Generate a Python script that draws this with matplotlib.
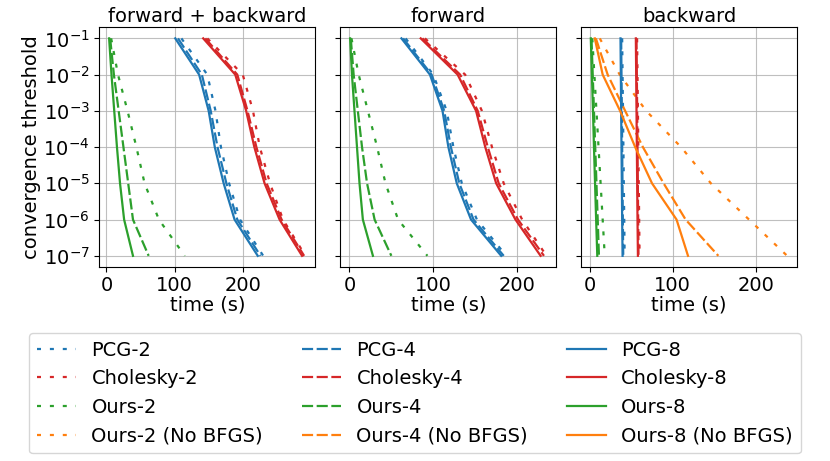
import matplotlib
matplotlib.use("Agg")
import matplotlib.pyplot as plt

thresholds = [1e-1, 1e-2, 1e-3, 1e-4, 1e-5, 1e-6, 1e-7]

# forward + backward
fb_pcg2 = [110, 148, 160, 168, 180, 196, 230]
fb_pcg4 = [105, 140, 153, 163, 176, 192, 226]
fb_pcg8 = [101, 136, 150, 159, 172, 188, 222]
fb_chol2 = [148, 200, 215, 225, 240, 259, 292]
fb_chol4 = [145, 192, 207, 220, 235, 257, 290]
fb_chol8 = [142, 189, 205, 217, 232, 254, 287]
fb_ours2 = [7, 17, 31, 44, 56, 77, 115]
fb_ours4 = [5.5, 11, 18, 25, 32, 39, 62]
fb_ours8 = [4, 7.5, 11.5, 15.5, 20, 26, 39]

# forward
fw_pcg2 = [67, 100, 116, 124, 134, 152, 187]
fw_pcg4 = [64, 98, 113, 121, 131, 148, 184]
fw_pcg8 = [62, 96, 111, 118, 128, 145, 181]
fw_chol2 = [90, 138, 158, 170, 184, 206, 235]
fw_chol4 = [87, 132, 153, 165, 178, 201, 232]
fw_chol8 = [85, 129, 151, 162, 175, 198, 228]
fw_ours2 = [2.4, 11, 22, 33, 43, 58, 93]
fw_ours4 = [1.6, 5, 10, 15, 21, 30, 50]
fw_ours8 = [0.8, 3, 6, 9, 12, 16, 28]

# backward
bw_pcg2 = [39, 39.5, 40, 40.5, 41, 41.5, 42]
bw_pcg4 = [37.8, 38.2, 38.6, 39, 39.4, 39.8, 40.3]
bw_pcg8 = [37, 37.4, 37.8, 38.2, 38.6, 39, 39.5]
bw_chol2 = [57, 57.5, 58, 58.5, 59, 59.5, 60]
bw_chol4 = [56.3, 56.7, 57.1, 57.5, 57.9, 58.3, 58.7]
bw_chol8 = [55.5, 55.9, 56.3, 56.7, 57.1, 57.5, 58]
bw_ours2 = [3, 5.5, 8, 10.5, 13, 15.5, 18]
bw_ours4 = [2, 3.5, 5, 6.5, 8, 9.5, 11]
bw_ours8 = [1.2, 2.5, 3.8, 5, 6.3, 7.6, 9]
bw_nob2 = [12, 36, 68, 110, 146, 192, 238]
bw_nob4 = [7.3, 21.5, 42.6, 64, 89, 115.5, 155]
bw_nob8 = [6, 15.5, 36.5, 54.7, 75, 104.6, 118.4]

titles = ["forward + backward", "forward", "backward"]
sizes = ["2", "4", "8"]

C_PCG, C_CHOL, C_OURS, C_NOB = "#1f77b4", "#d62728", "#2ca02c", "#ff7f0e"
styles = {"2": (0, (1.8, 4.0)), "4": (0, (5.0, 1.6)), "8": "-"}
LW = 1.6

panels = [
    {"PCG": [fb_pcg2, fb_pcg4, fb_pcg8], "Cholesky": [fb_chol2, fb_chol4, fb_chol8],
     "Ours": [fb_ours2, fb_ours4, fb_ours8], "NoB": None},
    {"PCG": [fw_pcg2, fw_pcg4, fw_pcg8], "Cholesky": [fw_chol2, fw_chol4, fw_chol8],
     "Ours": [fw_ours2, fw_ours4, fw_ours8], "NoB": None},
    {"PCG": [bw_pcg2, bw_pcg4, bw_pcg8], "Cholesky": [bw_chol2, bw_chol4, bw_chol8],
     "Ours": [bw_ours2, bw_ours4, bw_ours8], "NoB": [bw_nob2, bw_nob4, bw_nob8]},
]

FS = 14
plt.rcParams["font.size"] = FS
fig = plt.figure(figsize=(8.3, 4.61), dpi=100)
lefts = [99.3 / 830, 340.3 / 830, 581 / 830]
w = 216 / 830
bottom = 1 - 266.7 / 461
h = (266.7 - 27.5) / 461
axes = []
for i in range(3):
    ax = fig.add_axes([lefts[i], bottom, w, h], sharey=axes[0] if axes else None)
    axes.append(ax)

for i, (ax, p) in enumerate(zip(axes, panels)):
    for k, s in enumerate(sizes):
        ls = styles[s]
        ax.plot(p["PCG"][k], thresholds, color=C_PCG, ls=ls, lw=LW, label=f"PCG-{s}")
        ax.plot(p["Cholesky"][k], thresholds, color=C_CHOL, ls=ls, lw=LW, label=f"Cholesky-{s}")
        ax.plot(p["Ours"][k], thresholds, color=C_OURS, ls=ls, lw=LW, label=f"Ours-{s}")
        if p["NoB"] is not None:
            ax.plot(p["NoB"][k], thresholds, color=C_NOB, ls=ls, lw=LW, label=f"Ours-{s} (No BFGS)")
    ax.set_yscale("log")
    ax.set_title(titles[i], fontsize=FS, pad=4)
    ax.set_xlabel("time (s)", fontsize=FS, labelpad=0)
    ax.grid(True, color="#b0b0b0", lw=0.8, alpha=0.8)
    ax.set_xticks([0, 100, 200])
    ax.tick_params(labelsize=FS)
    if i > 0:
        ax.tick_params(labelleft=False)
    ax.minorticks_off()

axes[0].set_yticks(thresholds)
axes[0].set_ylabel("convergence threshold", fontsize=FS, labelpad=2)

handles, labels = axes[2].get_legend_handles_labels()
fig.legend(handles, labels, ncol=3, loc="upper center", bbox_to_anchor=(0.5, 1 - 323 / 461),
           fontsize=FS, handlelength=2.0, columnspacing=2.0)

fig.savefig("out.png", dpi=100)
